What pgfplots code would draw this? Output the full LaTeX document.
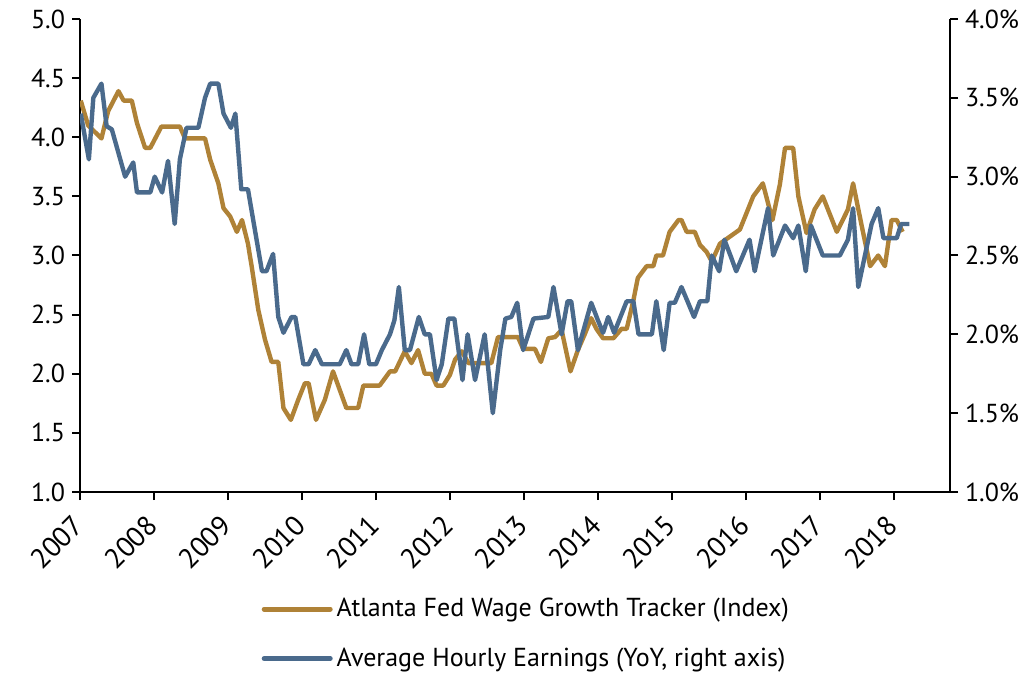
\documentclass[border=0pt]{standalone}
\usepackage{fontspec}
\setmainfont{PT Sans}
\usepackage{pgfplots}
\pgfplotsset{compat=1.18}
\definecolor{gold}{RGB}{175,130,55}
\definecolor{steel}{RGB}{74,106,140}

\pgfplotstableread{
x y
2007.01 4.31
2007.11 4.10
2007.29 3.99
2007.38 4.22
2007.52 4.39
2007.59 4.31
2007.70 4.31
2007.77 4.12
2007.88 3.91
2007.95 3.91
2008.10 4.09
2008.35 4.09
2008.42 3.99
2008.69 3.99
2008.76 3.81
2008.87 3.61
2008.94 3.40
2009.03 3.33
2009.12 3.20
2009.19 3.30
2009.27 3.10
2009.32 2.91
2009.41 2.54
2009.50 2.29
2009.59 2.10
2009.68 2.10
2009.75 1.71
2009.85 1.61
2009.95 1.78
2010.04 1.92
2010.09 1.92
2010.19 1.61
2010.31 1.78
2010.42 2.02
2010.60 1.71
2010.76 1.71
2010.83 1.90
2011.05 1.90
2011.19 2.02
2011.26 2.02
2011.39 2.19
2011.48 2.09
2011.57 2.20
2011.66 2.00
2011.75 2.00
2011.82 1.90
2011.91 1.90
2012.00 1.99
2012.07 2.12
2012.16 2.19
2012.25 2.09
2012.56 2.09
2012.65 2.31
2012.92 2.31
2012.99 2.21
2013.15 2.21
2013.23 2.10
2013.33 2.30
2013.42 2.31
2013.51 2.37
2013.63 2.02
2013.73 2.20
2013.82 2.33
2013.91 2.47
2013.98 2.38
2014.07 2.30
2014.21 2.30
2014.32 2.38
2014.39 2.38
2014.48 2.62
2014.54 2.81
2014.66 2.91
2014.75 2.91
2014.79 3.00
2014.88 3.00
2014.97 3.20
2015.09 3.30
2015.13 3.30
2015.20 3.20
2015.31 3.20
2015.38 3.09
2015.47 3.03
2015.54 2.95
2015.65 3.10
2015.92 3.22
2016.10 3.50
2016.23 3.61
2016.36 3.30
2016.46 3.60
2016.53 3.91
2016.64 3.91
2016.71 3.50
2016.82 3.19
2016.93 3.39
2017.04 3.50
2017.23 3.20
2017.31 3.30
2017.38 3.39
2017.45 3.61
2017.56 3.27
2017.68 2.91
2017.79 3.00
2017.88 2.91
2017.97 3.30
2018.04 3.30
2018.12 3.20
}\atlanta

\pgfplotstableread{
x y
2007.01 3.40
2007.12 3.11
2007.18 3.50
2007.29 3.59
2007.36 3.32
2007.43 3.30
2007.52 3.15
2007.61 3.00
2007.72 3.09
2007.77 2.90
2007.95 2.90
2008.01 3.00
2008.11 2.90
2008.19 3.10
2008.28 2.70
2008.35 3.11
2008.44 3.31
2008.60 3.31
2008.69 3.50
2008.76 3.59
2008.87 3.59
2008.94 3.40
2009.04 3.31
2009.10 3.40
2009.18 2.92
2009.27 2.92
2009.46 2.40
2009.52 2.40
2009.61 2.51
2009.68 2.11
2009.75 2.01
2009.86 2.11
2009.91 2.11
2010.02 1.81
2010.09 1.81
2010.18 1.90
2010.27 1.81
2010.51 1.81
2010.60 1.90
2010.67 1.81
2010.76 1.81
2010.84 2.00
2010.91 1.81
2011.00 1.81
2011.08 1.90
2011.19 2.00
2011.25 2.09
2011.31 2.30
2011.39 1.90
2011.46 1.90
2011.58 2.11
2011.66 2.00
2011.73 2.00
2011.82 1.71
2011.89 1.81
2011.98 2.10
2012.06 2.10
2012.17 1.71
2012.24 2.00
2012.34 1.71
2012.47 2.00
2012.58 1.50
2012.68 1.90
2012.75 2.10
2012.83 2.11
2012.91 2.20
2012.99 1.90
2013.13 2.10
2013.33 2.11
2013.40 2.30
2013.51 2.00
2013.59 2.21
2013.64 2.21
2013.73 1.90
2013.91 2.20
2014.00 2.09
2014.07 2.01
2014.14 2.11
2014.22 2.01
2014.39 2.21
2014.48 2.21
2014.55 2.00
2014.73 2.00
2014.79 2.21
2014.89 1.90
2014.97 2.20
2015.04 2.20
2015.13 2.30
2015.22 2.20
2015.30 2.11
2015.38 2.21
2015.48 2.21
2015.54 2.50
2015.64 2.40
2015.71 2.60
2015.80 2.49
2015.87 2.40
2015.96 2.50
2016.05 2.60
2016.12 2.40
2016.30 2.80
2016.37 2.50
2016.53 2.69
2016.64 2.61
2016.71 2.69
2016.81 2.40
2016.88 2.69
2017.04 2.50
2017.27 2.50
2017.38 2.60
2017.45 2.80
2017.52 2.30
2017.70 2.70
2017.79 2.80
2017.86 2.61
2018.04 2.61
2018.10 2.70
2018.21 2.70
}\ahe

\begin{document}
\begin{tikzpicture}
\pgfplotsset{
  common/.style={
    at={(0,0)}, anchor=south west,
    scale only axis, width=435pt, height=236.5pt,
    xmin=2007, xmax=2018.76,
    tick align=outside, major tick length=4pt,
    tick style={black, line width=1pt},
    axis line style={black, line width=1pt, -},
    ticklabel style={font=\fontsize{13}{15}\selectfont},
    /pgf/number format/assume math mode=true,
  }
}
\begin{axis}[common,
  ymin=1, ymax=5,
  axis x line*=bottom, axis y line*=left,
  xtick={2007,2008,2009,2010,2011,2012,2013,2014,2015,2016,2017,2018},
  xticklabel style={xshift=-4.3pt, yshift=-5pt, rotate=45, anchor=north east, inner sep=1pt,
    font=\fontsize{14}{16}\selectfont,
    /pgf/number format/1000 sep={}},
  ytick={1,1.5,2,2.5,3,3.5,4,4.5,5},
  yticklabel style={/pgf/number format/.cd, fixed, fixed zerofill, precision=1},
]
\addplot[gold, line width=2.2pt, line join=round] table[x=x,y=y]{\atlanta};
\end{axis}
\begin{axis}[common,
  ymin=1, ymax=4,
  axis x line=none, axis y line*=right,
  ytick={1,1.5,2,2.5,3,3.5,4},
  yticklabel={\pgfmathprintnumber[fixed,fixed zerofill,precision=1]{\tick}\%},
  legend style={at={(0.2015,-0.207)}, anchor=north west, draw=none, fill=none,
    font=\fontsize{13}{15}\selectfont, row sep=10pt},
  legend cell align=left,
  legend image code/.code={\draw[#1, line width=2.5pt, line cap=round] (0pt,0pt) -- (33pt,0pt);},
]
\addlegendimage{gold}
\addlegendentry{Atlanta Fed Wage Growth Tracker (Index)}
\addplot[steel, line width=2.2pt, line join=round] table[x=x,y=y]{\ahe};
\addlegendentry{Average Hourly Earnings (YoY, right axis)}
\end{axis}
\pgfresetboundingbox
\useasboundingbox (-40pt,-90.5pt) rectangle (478pt,246pt);
\end{tikzpicture}
\end{document}
